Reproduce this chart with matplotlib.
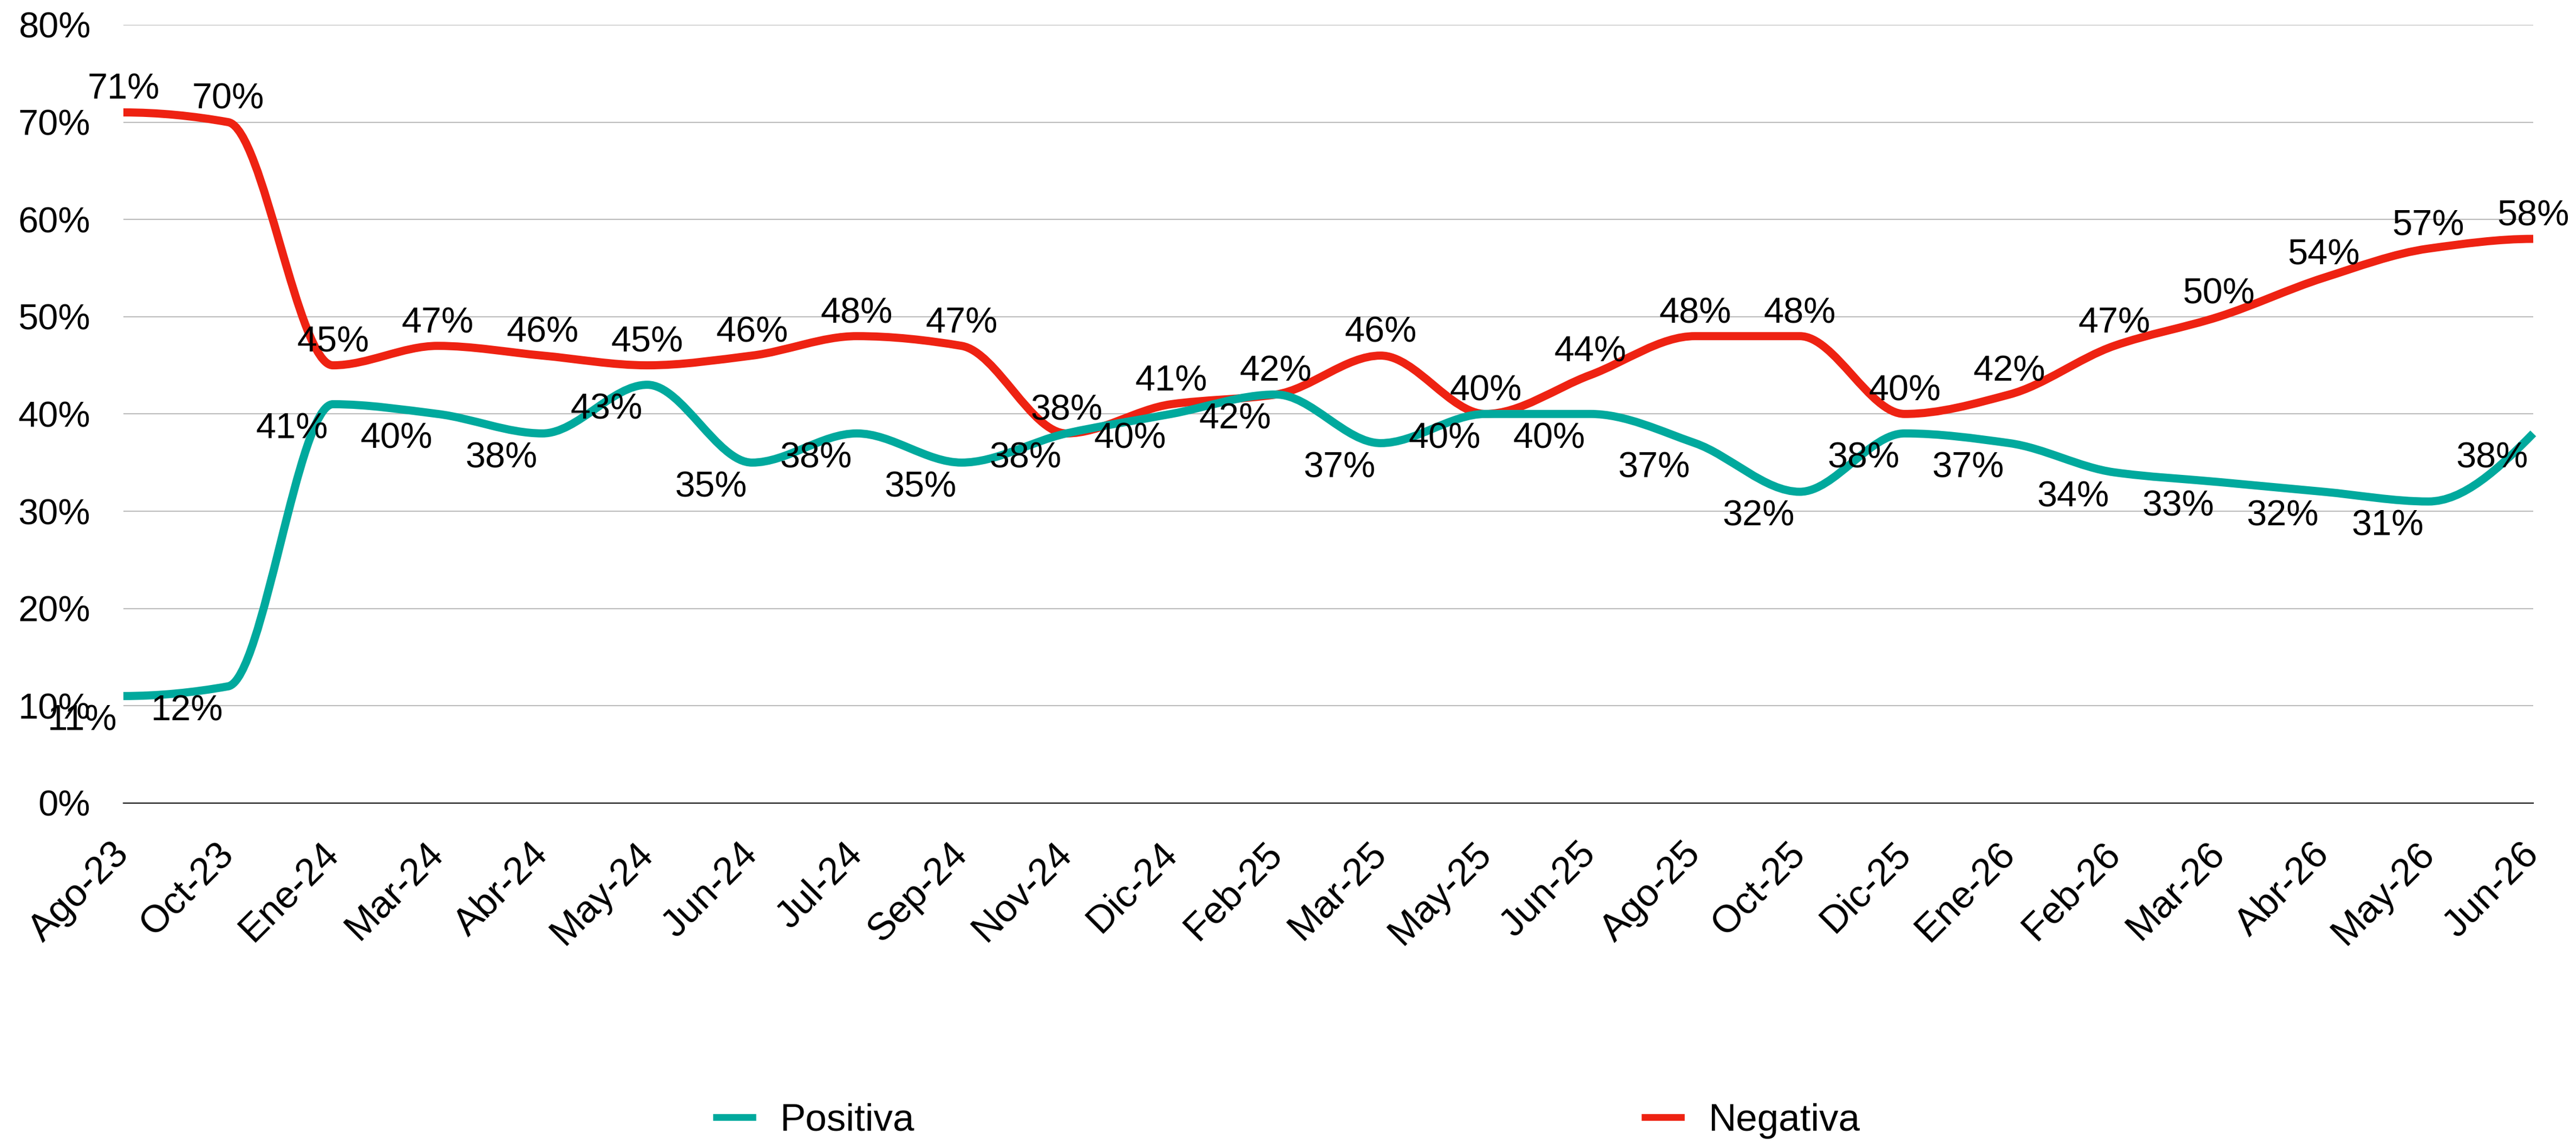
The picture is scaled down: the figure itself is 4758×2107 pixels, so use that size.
import numpy as np
import matplotlib
matplotlib.use("Agg")
import matplotlib.pyplot as plt
import matplotlib.transforms as mtransforms
from matplotlib.path import Path
from matplotlib.patches import PathPatch
from matplotlib.lines import Line2D
from matplotlib.ticker import FuncFormatter

plt.rcParams['font.family'] = ['Liberation Sans', 'DejaVu Sans']

meses = ['Ago-23', 'Oct-23', 'Ene-24', 'Mar-24', 'Abr-24', 'May-24', 'Jun-24', 'Jul-24',
         'Sep-24', 'Nov-24', 'Dic-24', 'Feb-25', 'Mar-25', 'May-25', 'Jun-25', 'Ago-25',
         'Oct-25', 'Dic-25', 'Ene-26', 'Feb-26', 'Mar-26', 'Abr-26', 'May-26', 'Jun-26']
positiva = [11, 12, 41, 40, 38, 43, 35, 38, 35, 38, 40, 42, 37, 40, 40, 37, 32, 38, 37, 34, 33, 32, 31, 38]
negativa = [71, 70, 45, 47, 46, 45, 46, 48, 47, 38, 41, 42, 46, 40, 44, 48, 48, 40, 42, 47, 50, 54, 57, 58]

verde = '#00A99D'
rojo = '#EE2212'


def pendientes(y):
    # pendientes monotonas (Fritsch-Carlson) para suavizar sin pasarse
    y = np.asarray(y, dtype=float)
    dl = np.diff(y)
    n = len(y)
    d = np.zeros(n)
    for k in range(1, n - 1):
        if dl[k - 1] * dl[k] > 0:
            d[k] = 2.0 / (1.0 / dl[k - 1] + 1.0 / dl[k])
    for k, a, b in ((0, dl[0], dl[1]), (n - 1, dl[-1], dl[-2])):
        e = (3 * a - b) / 2.0
        if np.sign(e) != np.sign(a):
            e = 0.0
        elif np.sign(a) != np.sign(b) and abs(e) > abs(3 * a):
            e = 3 * a
        d[k] = e
    return d


def curva(valores):
    y = np.asarray(valores, dtype=float) / 100.0
    d = pendientes(y)
    verts = [(0, y[0])]
    codes = [Path.MOVETO]
    for i in range(len(y) - 1):
        verts += [(i + 1 / 3, y[i] + d[i] / 3),
                  (i + 1 - 1 / 3, y[i + 1] - d[i + 1] / 3),
                  (i + 1, y[i + 1])]
        codes += [Path.CURVE4] * 3
    return Path(verts, codes)


fig = plt.figure(figsize=(4758 / 300, 2107 / 300), dpi=300)
ax = fig.add_axes([0.0479, 0.2962, 0.9355, 0.6820])

x = np.arange(len(meses))
ax.set_xlim(0, len(meses) - 1)
ax.set_ylim(0, 0.8)

# negativa debajo, positiva encima
for serie, color in ((negativa, rojo), (positiva, verde)):
    ax.add_patch(PathPatch(curva(serie), fill=False, edgecolor=color, lw=3.6,
                           capstyle='butt', joinstyle='round', clip_on=False, zorder=3))

for i, v in enumerate(negativa):
    ax.annotate(f'{v}%', (x[i], v / 100), xytext=(0, 10), textcoords='offset points',
                ha='center', va='center', fontsize=16, zorder=5, annotation_clip=False)
for i, v in enumerate(positiva):
    ax.annotate(f'{v}%', (x[i], v / 100), xytext=(-18.2, -11), textcoords='offset points',
                ha='center', va='center', fontsize=16, zorder=5, annotation_clip=False)

ax.set_yticks(np.arange(0, 0.81, 0.1))
ax.yaxis.set_major_formatter(FuncFormatter(lambda v, p: f'{v * 100:.0f}%'))
ax.set_xticks(x)
ax.set_xticklabels(meses, rotation=45, ha='right', va='baseline', rotation_mode='anchor')
ax.tick_params(axis='y', length=0, pad=14.6, labelsize=16)
ax.tick_params(axis='x', length=0, pad=23.3, labelsize=17)
desplaza = mtransforms.ScaledTranslation(3.2 / 72, 0, fig.dpi_scale_trans)
for lab in ax.get_xticklabels():
    lab.set_transform(lab.get_transform() + desplaza)

ax.grid(axis='y', color='#BBBBBB', lw=0.5)
ax.set_axisbelow(True)
for s in ('top', 'right', 'left'):
    ax.spines[s].set_visible(False)
ax.spines['bottom'].set_color('black')
ax.spines['bottom'].set_linewidth(0.5)

handles = [Line2D([], [], color=verde, lw=3.0), Line2D([], [], color=rojo, lw=3.0)]
fig.legend(handles, ['Positiva', 'Negativa'], loc='center', bbox_to_anchor=(0.5, 0.0176),
           ncol=2, frameon=False, fontsize=17, handlelength=0.95, handletextpad=0.7,
           columnspacing=19.05, borderpad=0, borderaxespad=0)

fig.savefig('out.png', dpi=300)
